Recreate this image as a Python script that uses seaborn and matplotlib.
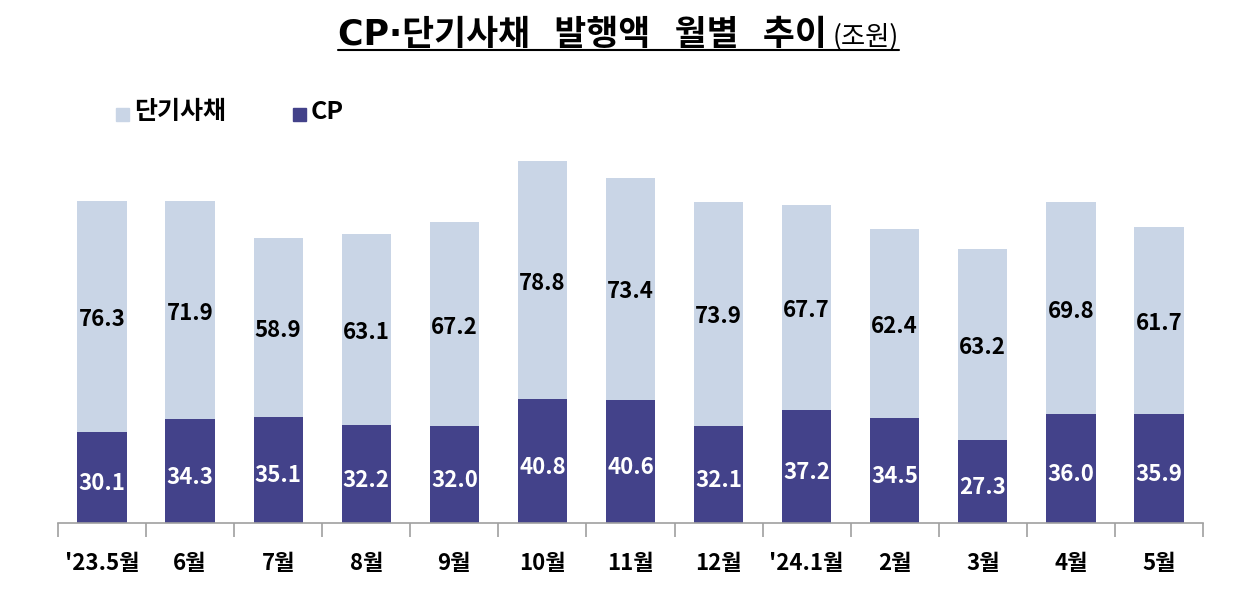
import matplotlib
matplotlib.use("Agg")
import matplotlib.pyplot as plt
import seaborn as sns
import pandas as pd
import numpy as np
from matplotlib.lines import Line2D

months = ["'23.5월", "6월", "7월", "8월", "9월", "10월", "11월", "12월", "'24.1월", "2월", "3월", "4월", "5월"]
cp = [30.1, 34.3, 35.1, 32.2, 32.0, 40.8, 40.6, 32.1, 37.2, 34.5, 27.3, 36.0, 35.9]
stb = [76.3, 71.9, 58.9, 63.1, 67.2, 78.8, 73.4, 73.9, 67.7, 62.4, 63.2, 69.8, 61.7]

sns.set_theme(style="white")
plt.rcParams['font.family'] = ['Noto Sans CJK KR', 'DejaVu Sans']
plt.rcParams['text.color'] = 'black'
plt.rcParams['xtick.color'] = 'black'

df = pd.DataFrame({"month": months, "CP": cp, "STB": stb})
df["total"] = df["CP"] + df["STB"]

light = "#C9D5E6"
dark = "#43428A"

fig = plt.figure(figsize=(12.46, 5.95), dpi=100)
ax = fig.add_axes([58/1246, 1-523/595, (1203-58)/1246, 373/595])

sns.barplot(data=df, x="month", y="total", color=light, width=0.56, ax=ax, saturation=1, edgecolor="none")
sns.barplot(data=df, x="month", y="CP", color=dark, width=0.56, ax=ax, saturation=1, edgecolor="none")

ax.set_ylim(0, 373/3.03)
ax.set_xlim(-0.5, len(months)-0.5)
ax.set_xlabel("")
ax.set_ylabel("")
ax.set_yticks([])
for s in ["top", "right", "left"]:
    ax.spines[s].set_visible(False)
ax.spines["bottom"].set_color("#A0A0A0")
ax.spines["bottom"].set_linewidth(1.2)
ax.set_xticks(np.arange(len(months)))
ax.set_xticklabels(months, fontsize=16, fontweight="bold", color="black")
ax.tick_params(axis="x", which="major", length=0, pad=21)
ax.set_xticks(np.arange(-0.5, len(months), 1.0), minor=True)
ax.tick_params(axis="x", which="minor", length=10, width=1.2, color="#A0A0A0", direction="out", bottom=True)

for i in range(len(months)):
    ax.text(i, cp[i]/2 - 2, f"{cp[i]:.1f}", ha="center", va="center", color="white",
            fontsize=16, fontweight="bold")
    ax.text(i, cp[i] + stb[i]/2 - 1, f"{stb[i]:.1f}", ha="center", va="center", color="black",
            fontsize=16, fontweight="bold")

# legend
fig.patches.append(plt.Rectangle((116/1246, 1-121/595), 13/1246, 13/595, transform=fig.transFigure,
                                 color=light, figure=fig))
fig.text(134/1246, 1-112/595, "단기사채", fontsize=18, fontweight="bold", va="center", ha="left")
fig.patches.append(plt.Rectangle((293/1246, 1-121/595), 13/1246, 13/595, transform=fig.transFigure,
                                 color=dark, figure=fig))
fig.text(311/1246, 1-112/595, "CP", fontsize=18, fontweight="bold", va="center", ha="left")

# title
t1 = fig.text(338/1246, 1-45/595, "CP·단기사채  발행액  월별  추이", fontsize=25, fontweight="bold",
              va="baseline", ha="left", family=['DejaVu Sans', 'Noto Sans CJK KR'])
fig.canvas.draw()
r = fig.canvas.get_renderer()
bb = t1.get_window_extent(r)
t2 = fig.text((bb.x1 + 6)/1246, 1-45/595, "(조원)", fontsize=19, fontweight="normal",
              va="baseline", ha="left")
bb2 = t2.get_window_extent(r)
fig.lines.append(Line2D([bb.x0/1246, bb2.x1/1246], [1-50/595, 1-50/595], transform=fig.transFigure,
                        color="black", linewidth=1.5))

fig.savefig("out.png", dpi=100)
